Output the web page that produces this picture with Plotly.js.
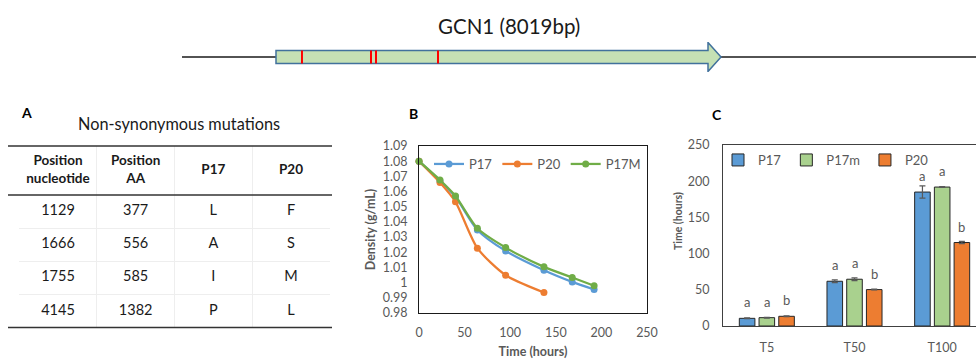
<!DOCTYPE html>
<html>
<head>
<meta charset="utf-8">
<script src="https://cdn.plot.ly/plotly-3.0.1.min.js"></script>
<style>
html,body{margin:0;padding:0;overflow:hidden;background:#ffffff;}
#chart{width:990px;height:360px;}
</style>
</head>
<body>
<div id="chart"></div>
<script>
// ---------- Gene diagram ----------
const geneName = 'GCN1';
const geneLengthBp = 8019;
// positions of the red marks as drawn on the (schematic) gene arrow, in bp along the arrow
const mutationMarksDrawnBp = [468, 1712, 1802, 2919];

// ---------- Panel A: table ----------
const tableTitle = 'Non-synonymous mutations';
const tableHeader = ['Position<br>nucleotide', 'Position<br>AA', 'P17', 'P20'];
const posNucleotide = ['1129', '1666', '1755', '4145'];
const posAA = ['377', '556', '585', '1382'];
const aaP17 = ['L', 'A', 'I', 'P'];
const aaP20 = ['F', 'S', 'M', 'L'];

// ---------- Panel B: density over time ----------
const timeP17 = [0, 23, 40, 64, 95, 137, 168, 192];
const densityP17 = [1.080, 1.067, 1.0565, 1.0347, 1.0209, 1.0082, 1.0005, 0.9955];
const timeP20 = [0, 23, 40, 64, 95, 137];
const densityP20 = [1.080, 1.0659, 1.0532, 1.0227, 1.0049, 0.9935];
const timeP17M = [0, 23, 40, 64, 95, 137, 168, 192];
const densityP17M = [1.080, 1.0676, 1.0571, 1.0358, 1.0231, 1.0104, 1.0034, 0.9979];
const densityTickVals = [0.98, 0.99, 1.00, 1.01, 1.02, 1.03, 1.04, 1.05, 1.06, 1.07, 1.08, 1.09];
const densityTickText = ['0.98', '0.99', '1', '1.01', '1.02', '1.03', '1.04', '1.05', '1.06', '1.07', '1.08', '1.09'];

// ---------- Panel C: time to reach stage ----------
const stages = ['T5', 'T50', 'T100'];
const hoursP17 = [10.6, 61.8, 185.0];
const errP17 = [0.5, 2.0, 8.5];
const hoursP17m = [11.5, 64.6, 191.9];
const errP17m = [0.5, 2.0, 0.5];
const hoursP20 = [13.4, 50.3, 115.3];
const errP20 = [0.5, 0.5, 1.5];
const lettersP17 = ['a', 'a', 'a'];
const lettersP17m = ['a', 'a', 'a'];
const lettersP20 = ['b', 'b', 'b'];

// ---------- layout helpers (pixel positions -> paper) ----------
const W = 990, H = 360;
const px = v => v / W;
const py = v => 1 - v / H;
const FONT = 'Lato, Carlito, "Open Sans", sans-serif';
const GREY = '#595959';
const INK = '#1a1a1a';

// gene axis: bp 0 at px 276, bp geneLength at px 721 (arrow tip)
const geneLeftPx = 276, geneTipPx = 721;
const bpPerPx = geneLengthBp / (geneTipPx - geneLeftPx);
const geneRange = [-geneLeftPx * bpPerPx, (W - geneLeftPx) * bpPerPx];
const headLenBp = 13 * bpPerPx;
const bodyHalf = 0.433, headHalf = 0.967;
const bodyEnd = geneLengthBp - headLenBp;
const arrowPath = `M 0,${-bodyHalf} L ${bodyEnd},${-bodyHalf} L ${bodyEnd},${-headHalf} L ${geneLengthBp},0 L ${bodyEnd},${headHalf} L ${bodyEnd},${bodyHalf} L 0,${bodyHalf} Z`;

const traces = [];

// ---------- Table (text grid on its own category axes) ----------
const tableColumns = [posNucleotide, posAA, aaP17, aaP20];
traces.push({
  type: 'scatter', mode: 'text', showlegend: false, xaxis: 'x5', yaxis: 'y6',
  x: tableHeader, y: tableHeader.map(() => 'header'), text: tableHeader,
  textposition: 'middle center', cliponaxis: false,
  textfont: {family: FONT, size: 13.5, color: INK, weight: 'bold'}
});
const cellX = [], cellY = [], cellText = [];
tableColumns.forEach((col, c) => col.forEach((v, r) => {
  cellX.push(tableHeader[c]); cellY.push(posNucleotide[r]); cellText.push(v);
}));
traces.push({
  type: 'scatter', mode: 'text', showlegend: false, xaxis: 'x5', yaxis: 'y5',
  x: cellX, y: cellY, text: cellText, textposition: 'middle center', cliponaxis: false,
  textfont: {family: FONT, size: 14.5, color: INK}
});

// ---------- Panel B lines ----------
const lineSeries = [
  {name: 'P17', x: timeP17, y: densityP17, color: '#5B9BD5'},
  {name: 'P20', x: timeP20, y: densityP20, color: '#ED7D31'},
  {name: 'P17M', x: timeP17M, y: densityP17M, color: '#70AD47'}
];
lineSeries.forEach(s => traces.push({
  type: 'scatter', mode: 'lines+markers', name: s.name, x: s.x, y: s.y,
  xaxis: 'x', yaxis: 'y', legend: 'legend', cliponaxis: false,
  line: {color: s.color, width: 2.25, shape: 'spline', smoothing: 0.7},
  marker: {color: s.color, size: 7}
}));

// ---------- Panel C bars ----------
const barSeries = [
  {name: 'P17', y: hoursP17, err: errP17, letters: lettersP17, color: '#5B9BD5'},
  {name: 'P17m', y: hoursP17m, err: errP17m, letters: lettersP17m, color: '#A9D18E'},
  {name: 'P20', y: hoursP20, err: errP20, letters: lettersP20, color: '#ED7D31'}
];
barSeries.forEach(s => traces.push({
  type: 'bar', name: s.name, x: stages, y: s.y, xaxis: 'x3', yaxis: 'y3', legend: 'legend2',
  marker: {color: s.color, line: {color: '#262626', width: 1}},
  error_y: {type: 'data', array: s.err, visible: true, color: GREY, thickness: 1.2, width: 3}
}));

// ---------- annotations ----------
const label = (text, x, y, size, extra) => Object.assign({
  text: text, xref: 'paper', yref: 'paper', x: px(x), y: py(y), xanchor: 'center', yanchor: 'middle',
  showarrow: false, font: {family: FONT, size: size, color: INK}
}, extra || {});
const annotations = [
  label(`${geneName} (${geneLengthBp}bp)`, 509, 26.5, 20.5),
  label('A', 26.5, 112.5, 14, {font: {family: FONT, size: 14, color: '#000', weight: 'bold'}}),
  label('B', 413.5, 113, 14, {font: {family: FONT, size: 14, color: '#000', weight: 'bold'}}),
  label('C', 716.5, 115, 14, {font: {family: FONT, size: 14, color: '#000', weight: 'bold'}}),
  label(tableTitle, 179, 123.5, 16.3),
  label('Time (hours)', 678, 221, 10.5, {textangle: -90, font: {family: FONT, size: 10.5, color: GREY, weight: 'bold'}})
];
const catPx = (986 - 723) / 3;
const bargap = 0.325;
const slotPx = catPx * (1 - bargap) / 3;
barSeries.forEach((s, k) => {
  stages.forEach((st, i) => annotations.push({
    text: s.letters[i], xref: 'x3', yref: 'y3', x: st, y: s.y[i],
    xanchor: 'center', yanchor: 'bottom',
    xshift: (k - 1) * slotPx, yshift: 6, showarrow: false,
    font: {family: FONT, size: 13, color: GREY}
  }));
});

// ---------- shapes ----------
const rule = y => ({type: 'line', xref: 'paper', yref: 'paper', x0: px(8), x1: px(332), y0: py(y), y1: py(y),
  line: {color: '#333333', width: 1.6}});
const shapes = [
  {type: 'line', xref: 'paper', yref: 'y4', x0: px(182), x1: 1, y0: 0, y1: 0,
   line: {color: INK, width: 1.5}, layer: 'below'},
  {type: 'path', xref: 'x4', yref: 'y4', path: arrowPath, fillcolor: '#C5E0B4',
   line: {color: '#41719C', width: 1.5}},
  rule(146), rule(195), rule(327.5)
];
mutationMarksDrawnBp.forEach(b => shapes.push({
  type: 'line', xref: 'x4', yref: 'y4', x0: b, x1: b, y0: -bodyHalf, y1: bodyHalf,
  line: {color: '#FF0000', width: 2}
}));

const tickFont = {family: FONT, size: 12.5, color: GREY};
const hiddenCat = extra => Object.assign({type: 'category', showgrid: false, zeroline: false, showline: false,
  ticks: '', showticklabels: false, fixedrange: true}, extra);
const tableColW = (291 - 58) / 3;
const layout = {
  width: W, height: H,
  margin: {l: 0, r: 0, t: 0, b: 0},
  paper_bgcolor: '#ffffff', plot_bgcolor: 'rgba(0,0,0,0)',
  font: {family: FONT, color: GREY},
  showlegend: true,
  barmode: 'group', bargap: bargap, bargroupgap: 0.21,
  xaxis: {domain: [px(419), px(647)], anchor: 'y', range: [0, 250], dtick: 50, tick0: 0,
    showgrid: false, zeroline: false, showline: true, mirror: true, linecolor: INK, linewidth: 1,
    ticks: '', ticklabelstandoff: 8, tickfont: tickFont,
    title: {text: 'Time (hours)', standoff: 8, font: {family: FONT, size: 12.5, color: GREY, weight: 'bold'}}},
  yaxis: {domain: [py(313), py(146)], anchor: 'x', range: [0.98, 1.09],
    tickvals: densityTickVals, ticktext: densityTickText,
    showgrid: false, zeroline: false, showline: true, mirror: true, linecolor: INK, linewidth: 1,
    ticks: '', ticklabelstandoff: 8, tickfont: tickFont,
    title: {text: 'Density (g/mL)', standoff: 4, font: {family: FONT, size: 12.5, color: GREY, weight: 'bold'}}},
  xaxis3: {domain: [px(723), px(986)], anchor: 'y3', type: 'category', range: [-0.5, 2.5],
    showgrid: false, zeroline: false, showline: true, mirror: true, linecolor: '#404040', linewidth: 1,
    ticks: '', ticklabelstandoff: 10, tickfont: tickFont},
  yaxis3: {domain: [py(326), py(145)], anchor: 'x3', range: [0, 250], dtick: 50, tick0: 0,
    showgrid: false, zeroline: false, showline: true, mirror: true, linecolor: '#404040', linewidth: 1,
    ticks: '', ticklabelstandoff: 10, tickfont: tickFont},
  xaxis4: {domain: [0, 1], anchor: 'y4', range: geneRange, visible: false, fixedrange: true},
  yaxis4: {domain: [py(72), py(42)], anchor: 'x4', range: [-1, 1], visible: false, fixedrange: true},
  xaxis5: hiddenCat({domain: [px(58 - tableColW / 2), px(291 + tableColW / 2)], anchor: 'y5',
    range: [-0.5, 3.5], categoryorder: 'array', categoryarray: tableHeader,
    showgrid: true, tickson: 'boundaries', gridcolor: '#eeeeee', gridwidth: 1}),
  yaxis5: hiddenCat({domain: [py(327.5), py(195)], anchor: 'x5', autorange: false, range: [3.5, -0.5],
    categoryorder: 'array', categoryarray: posNucleotide,
    showgrid: true, tickson: 'boundaries', gridcolor: '#eeeeee', gridwidth: 1}),
  yaxis6: hiddenCat({domain: [py(195), py(146)], anchor: 'x5', range: [-0.5, 0.5]}),
  legend: {orientation: 'h', x: px(646), xanchor: 'right', y: py(149), yanchor: 'top',
    bgcolor: 'rgba(0,0,0,0)', borderwidth: 0, itemwidth: 30, font: {family: FONT, size: 13, color: GREY}},
  legend2: {orientation: 'h', x: px(718), xanchor: 'left', y: py(145), yanchor: 'top',
    bgcolor: 'rgba(0,0,0,0)', borderwidth: 0, itemwidth: 30, font: {family: FONT, size: 13, color: GREY}},
  annotations: annotations,
  shapes: shapes
};

Plotly.newPlot('chart', traces, layout, {staticPlot: true, displayModeBar: false});
</script>
</body>
</html>
